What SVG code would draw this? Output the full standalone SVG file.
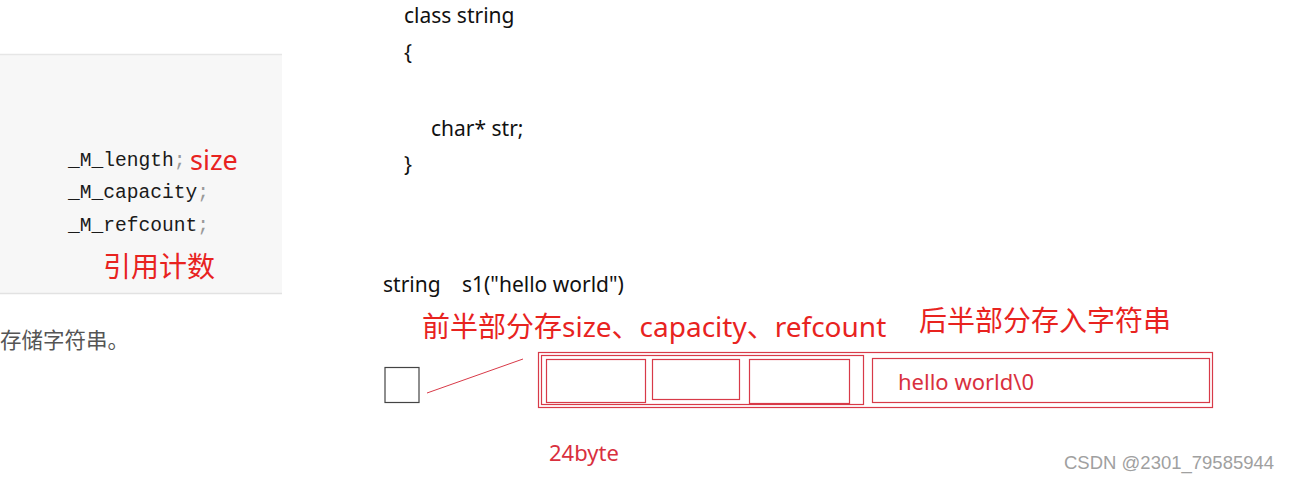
<svg xmlns="http://www.w3.org/2000/svg" width="1291" height="481" viewBox="0 0 1291 481">
<style>
.code{font-family:"Liberation Mono","DejaVu Sans Mono",monospace;font-size:19.6px;fill:#1a1a1a}
.semi{fill:#9a9a9a}
.txt{font-family:"Noto Sans","Noto Sans CJK SC",sans-serif;font-size:21px;fill:#111}
.red{font-family:"Noto Sans","Noto Sans CJK SC",sans-serif;fill:#e8231f}
.box{fill:none;stroke:#d83a48;stroke-width:1.2}
.mark{font-family:"Liberation Sans","Noto Sans",sans-serif;font-size:18.5px;fill:#a0a0a0}
</style>
<rect width="1291" height="481" fill="#ffffff"/>
<g id="code-panel">
<rect x="0" y="54" width="282" height="240" fill="#f7f7f7"/>
<line x1="0" y1="54.5" x2="282" y2="54.5" stroke="#e6e6e6" stroke-width="1.5"/>
<line x1="0" y1="293.5" x2="282" y2="293.5" stroke="#e2e2e2" stroke-width="1.5"/>
<text class="code" x="68" y="166">_M_length<tspan class="semi">;</tspan></text>
<text class="code" x="68" y="198">_M_capacity<tspan class="semi">;</tspan></text>
<text class="code" x="68" y="231">_M_refcount<tspan class="semi">;</tspan></text>
<text class="red" x="190" y="170" font-size="27">size</text>
<text class="red" x="103" y="277" font-size="28">引用计数</text>
</g>
<text id="caption" x="0" y="348" font-family="Noto Sans CJK SC,sans-serif" font-size="21.5" fill="#555">存储字符串。</text>
<g id="class-code">
<text class="txt" x="404" y="23">class string</text>
<text class="txt" x="404" y="60">{</text>
<text class="txt" x="431" y="136">char* str;</text>
<text class="txt" x="404" y="172">}</text>
</g>
<text id="decl" class="txt" x="383" y="292">string<tspan x="462">s1("hello world")</tspan></text>
<text id="label-front" class="red" x="422" y="337" font-size="28">前半部分存size、capacity、refcount</text>
<text id="label-back" class="red" x="919" y="331" font-size="28">后半部分存入字符串</text>
<g id="pointer">
<rect x="385" y="367.5" width="34" height="35" fill="none" stroke="#444" stroke-width="1.2"/>
</g>
<g id="connectors">
<line x1="427" y1="393" x2="523" y2="359" stroke="#d83a48" stroke-width="1"/>
</g>
<g id="memory">
<rect class="box" x="538.5" y="352.5" width="674" height="55"/>
<rect class="box" x="541.5" y="355.5" width="322" height="49"/>
<rect class="box" x="546.5" y="359.5" width="99" height="43"/>
<rect class="box" x="652.5" y="359.5" width="87" height="40"/>
<rect class="box" x="749.5" y="359.5" width="100" height="44"/>
<rect class="box" x="872.5" y="358.5" width="337" height="44"/>
<text class="red" x="898" y="390" font-size="22" style="fill:#d9303e">hello world\0</text>
</g>
<text id="size-label" class="red" x="549" y="461" font-size="22" style="fill:#d9303e">24byte</text>
<text id="watermark" class="mark" x="1064" y="469">CSDN @2301_79585944</text>
</svg>
